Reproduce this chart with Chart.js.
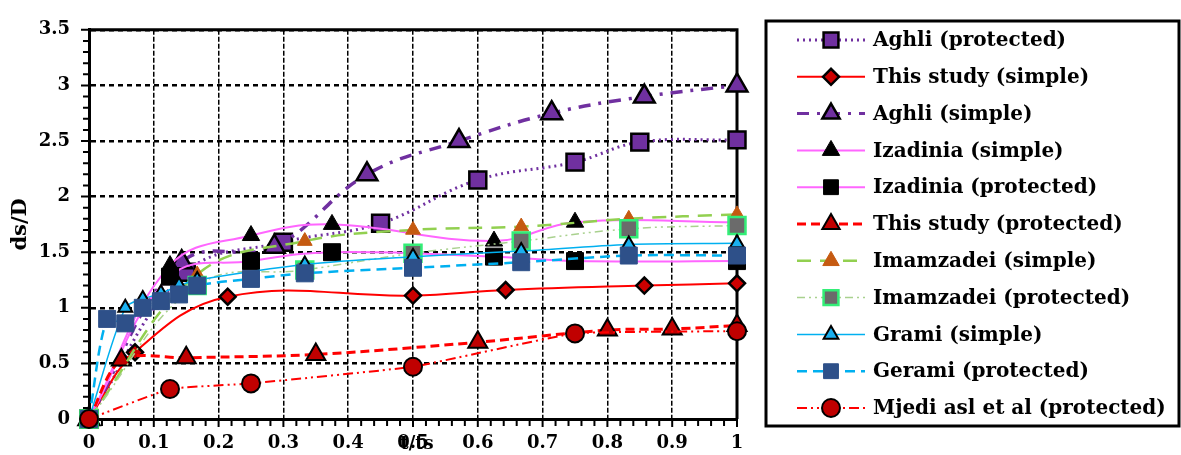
<!DOCTYPE html>
<html><head><meta charset="utf-8">
<script src="https://cdn.jsdelivr.net/npm/chart.js@4/dist/chart.umd.min.js"></script>
<style>html,body{margin:0;padding:0;background:#fff;}#wrap{width:1181px;height:455px;position:relative;}</style>
</head><body><div id="wrap"><canvas id="c" width="1181" height="455"></canvas></div>
<script>
// ---- data ----
const seriesNames = ["Aghli (protected)", "This study (simple)", "Aghli (simple)", "Izadinia (simple)",
  "Izadinia (protected)", "This study (protected)", "Imamzadei (simple)", "Imamzadei (protected)",
  "Grami (simple)", "Gerami (protected)", "Mjedi asl et al (protected)"];
const xTickLabels = ["0","0.1","0.2","0.3","0.4","0.5","0.6","0.7","0.8","0.9","1"];
const yTickLabels = ["0","0.5","1","1.5","2","2.5","3","3.5"];
const xTitle = "t/ts";
const yTitle = "ds/D";

const aghliProtX = [0, 0.15, 0.3, 0.45, 0.6, 0.75, 0.85, 1];
const aghliProtY = [0, 1.32, 1.59, 1.76, 2.15, 2.31, 2.49, 2.51];
const thisSimpleX = [0, 0.071, 0.214, 0.5, 0.643, 0.857, 1];
const thisSimpleY = [0, 0.6, 1.1, 1.11, 1.16, 1.2, 1.22];
const aghliSimpleX = [0, 0.143, 0.286, 0.429, 0.571, 0.714, 0.857, 1];
const aghliSimpleY = [0, 1.41, 1.55, 2.2, 2.5, 2.75, 2.9, 3.0];
const izaSimpleX = [0, 0.125, 0.25, 0.375, 0.625, 0.75, 1];
const izaSimpleY = [0, 1.38, 1.65, 1.75, 1.6, 1.77, 1.77];
const izaProtX = [0, 0.125, 0.25, 0.375, 0.625, 0.75, 1];
const izaProtY = [0, 1.28, 1.42, 1.5, 1.46, 1.42, 1.42];
const thisProtX = [0, 0.05, 0.15, 0.35, 0.6, 0.8, 0.9, 1];
const thisProtY = [0, 0.53, 0.55, 0.58, 0.69, 0.8, 0.81, 0.84];
const imaSimpleX = [0, 0.167, 0.333, 0.5, 0.667, 0.833, 1];
const imaSimpleY = [0, 1.3, 1.6, 1.7, 1.73, 1.8, 1.84];
const imaProtX = [0, 0.167, 0.333, 0.5, 0.667, 0.833, 1];
const imaProtY = [0, 1.2, 1.34, 1.49, 1.6, 1.71, 1.74];
const gramiSimpleX = [0, 0.056, 0.083, 0.111, 0.139, 0.167, 0.333, 0.5, 0.667, 0.833, 1];
const gramiSimpleY = [0, 1.0, 1.08, 1.13, 1.2, 1.25, 1.39, 1.46, 1.51, 1.57, 1.58];
const geramiProtX = [0, 0.028, 0.056, 0.083, 0.111, 0.139, 0.167, 0.25, 0.333, 0.5, 0.667, 0.833, 1];
const geramiProtY = [0, 0.9, 0.86, 1.0, 1.06, 1.12, 1.2, 1.26, 1.31, 1.36, 1.41, 1.47, 1.47];
const mjediProtX = [0, 0.125, 0.25, 0.5, 0.75, 1];
const mjediProtY = [0, 0.27, 0.32, 0.47, 0.77, 0.79];

const seriesX = [aghliProtX, thisSimpleX, aghliSimpleX, izaSimpleX, izaProtX, thisProtX, imaSimpleX, imaProtX, gramiSimpleX, geramiProtX, mjediProtX];
const seriesY = [aghliProtY, thisSimpleY, aghliSimpleY, izaSimpleY, izaProtY, thisProtY, imaSimpleY, imaProtY, gramiSimpleY, geramiProtY, mjediProtY];

// ---- styles ----
const styles = [
  {c:'#7030a0', w:3, d:[2,4], t:0.4, ps:'rect', r:12, pf:'#7030a0', pb:'#000', pw:2.5, lr:10.5},
  {c:'#ff0000', w:2, d:[], t:0.4, ps:'rectRot', r:8, pf:'#cc0000', pb:'#000', pw:2.5, lr:8},
  {c:'#7030a0', w:3.5, d:[12,8,3,8], t:0.4, ps:'triangle', r:12, pf:'#7030a0', pb:'#000', pw:2.5, lr:10},
  {c:'#ff66ff', w:2, d:[], t:0.4, ps:'triangle', r:10, pf:'#000', pb:'#000', pw:1, lr:10},
  {c:'#ff66ff', w:2, d:[], t:0.4, ps:'rect', r:12, pf:'#000', pb:'#000', pw:1, lr:10.5},
  {c:'#ff0000', w:3, d:[9,5], t:0.3, ps:'triangle', r:11, pf:'#c00000', pb:'#000', pw:2, lr:10},
  {c:'#92d050', w:2.5, d:[14,9], t:0.4, ps:'triangle', r:8.5, pf:'#c55a11', pb:'#c55a11', pw:1, lr:9.5},
  {c:'#a9d18e', w:1.5, d:[8,4,2,4,2,4], t:0.4, ps:'rect', r:12, pf:'#6b6b6b', pb:'#33ee77', pw:2.5, lr:10.5},
  {c:'#00b0f0', w:1.5, d:[], t:0.3, ps:'triangle', r:8, pf:'#1ab0f0', pb:'#000', pw:2, lr:8.5},
  {c:'#00b0f0', w:2.5, d:[10,6], t:0.3, ps:'rect', r:12, pf:'#2e5089', pb:'#2e5089', pw:1, lr:10.5},
  {c:'#ff0000', w:2, d:[10,4,2,4,2,4], t:0.1, ps:'circle', r:9, pf:'#c00000', pb:'#000', pw:2, lr:9}
];

const datasets = seriesNames.map((name, i) => {
  const s = styles[i];
  return {
    label: name,
    data: seriesX[i].map((x, k) => ({x: x, y: seriesY[i][k]})),
    borderColor: s.c, borderWidth: s.w, borderDash: s.d, tension: s.t,
    pointStyle: s.ps, pointRadius: s.r, pointHoverRadius: s.r,
    pointBackgroundColor: s.pf, pointBorderColor: s.pb, pointBorderWidth: s.pw,
    legendRadius: s.lr, fill: false, clip: false, order: seriesNames.length - i
  };
});

const SERIF = '"DejaVu Serif", "Liberation Serif", serif';

const framePlugin = {
  id: 'frame',
  beforeDatasetsDraw(chart) {
    const {ctx, chartArea: a, scales: {x, y}} = chart;
    ctx.save();
    ctx.strokeStyle = '#000';
    ctx.lineWidth = 3;
    ctx.beginPath();
    ctx.moveTo(a.left, a.top); ctx.lineTo(a.right, a.top); ctx.lineTo(a.right, a.bottom);
    ctx.stroke();
    ctx.lineWidth = 2;
    ctx.beginPath();
    for (let i = 0; i <= 50; i++) {
      const px = x.getPixelForValue(i / 50);
      ctx.moveTo(px, a.bottom); ctx.lineTo(px, a.bottom + (i % 5 === 0 ? 8 : 7));
    }
    for (let i = 0; i <= 35; i++) {
      const py = y.getPixelForValue(i / 10);
      ctx.moveTo(a.left, py); ctx.lineTo(a.left - (i % 5 === 0 ? 8 : 6), py);
    }
    ctx.stroke();
    ctx.restore();
  },
  afterDraw(chart) {
    const {ctx, scales: {x}} = chart;
    ctx.save();
    ctx.fillStyle = '#000';
    ctx.font = 'bold 18px ' + SERIF;
    ctx.textAlign = 'center'; ctx.textBaseline = 'middle';
    ctx.fillText(xTitle, x.getPixelForValue(0.5) + 4, 444);
    // legend
    ctx.strokeStyle = '#000'; ctx.lineWidth = 3;
    ctx.strokeRect(766, 21, 413, 405);
    chart.data.datasets.forEach((ds, i) => {
      const yy = 40 + i * 36.8;
      ctx.save();
      ctx.strokeStyle = ds.borderColor;
      ctx.lineWidth = Math.min(ds.borderWidth, 3);
      ctx.setLineDash(ds.borderDash || []);
      ctx.beginPath(); ctx.moveTo(797, yy); ctx.lineTo(865, yy); ctx.stroke();
      ctx.restore();
      ctx.save();
      ctx.fillStyle = ds.pointBackgroundColor;
      ctx.strokeStyle = ds.pointBorderColor;
      ctx.lineWidth = ds.pointBorderWidth;
      Chart.helpers.drawPoint(ctx, {pointStyle: ds.pointStyle, radius: ds.legendRadius, rotation: 0, borderWidth: ds.pointBorderWidth}, 831, yy);
      ctx.restore();
      ctx.fillStyle = '#000';
      ctx.font = 'bold 20px ' + SERIF;
      ctx.textAlign = 'left'; ctx.textBaseline = 'middle';
      ctx.fillText(ds.label, 873, yy + 1);
    });
    ctx.restore();
  }
};

new Chart(document.getElementById('c'), {
  type: 'line',
  data: { datasets: datasets },
  plugins: [framePlugin],
  options: {
    responsive: false, animation: false, events: [],
    layout: { padding: { left: 0, top: 19, right: 444, bottom: 0 } },
    plugins: { legend: { display: false }, tooltip: { enabled: false } },
    scales: {
      x: {
        type: 'linear', min: 0, max: 1,
        afterFit(s) { s.height = 36; },
        ticks: { stepSize: 0.1, autoSkip: false, maxRotation: 0, padding: 14, color: '#000',
          font: { family: SERIF, size: 18, weight: 'bold' },
          callback: (v, i) => xTickLabels[i] },
        grid: { color: '#000', lineWidth: 1.5, drawTicks: false },
        border: { display: true, color: '#000', width: 3, dash: [5, 2] }
      },
      y: {
        type: 'linear', min: 0, max: 3.5,
        afterFit(s) { s.width = 89; },
        ticks: { stepSize: 0.5, padding: 19, color: '#000',
          font: { family: SERIF, size: 18, weight: 'bold' },
          callback: (v, i) => yTickLabels[i] },
        grid: { color: '#000', lineWidth: 2.5, drawTicks: false },
        border: { display: true, color: '#000', width: 3, dash: [5, 4] },
        title: { display: true, text: yTitle, color: '#000', padding: { top: 8, bottom: 0 },
          font: { family: SERIF, size: 21, weight: 'bold' } }
      }
    }
  }
});
</script></body></html>
